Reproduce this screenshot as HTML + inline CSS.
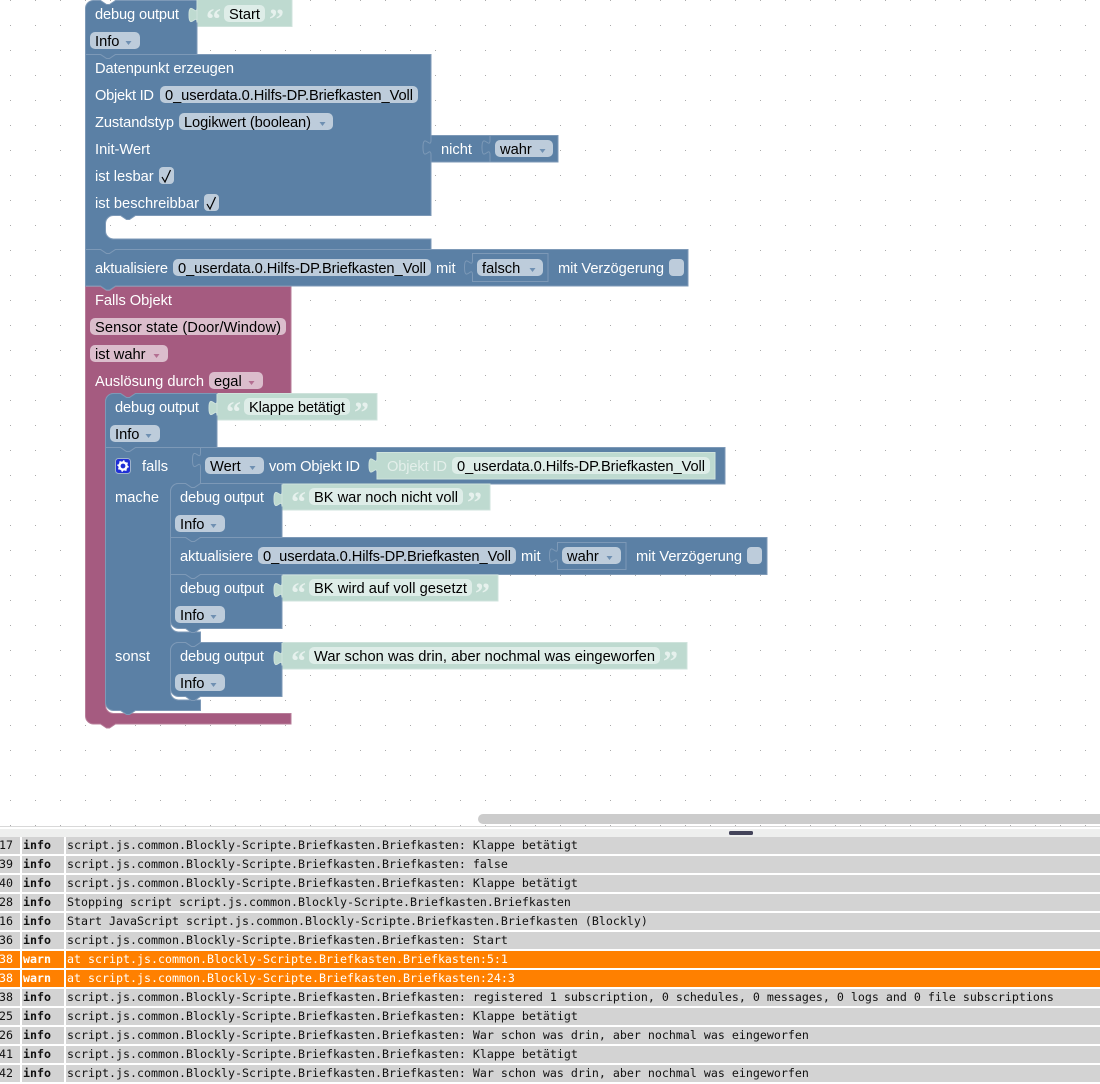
<!DOCTYPE html>
<html><head><meta charset="utf-8"><style>
html,body{margin:0;padding:0;background:#fff;width:1100px;height:1084px;overflow:hidden}
svg{display:block}
text{font-family:"Liberation Sans",sans-serif;font-size:14.67px;white-space:pre}
.b{fill:#5b80a5;stroke:#7d99b7;stroke-width:1}
.p{fill:#a55b80;stroke:#b77d99;stroke-width:1}
.g{fill:#bedad0;stroke:#cfe3dc;stroke-width:1}
.l{fill:#fff}
.t{fill:#000}
.fb{fill:#bdccdb}.fp{fill:#dbbdcc}.fg{fill:#deede8}
.ab{fill:#6f90b2}.ap{fill:#b46f92}
.q{font-family:"Liberation Serif",serif;font-weight:bold;font-size:30px;fill:#e6f1ed}
.m{font-family:"DejaVu Sans Mono",monospace;font-size:11.635px;fill:#111}
.mb{font-family:"DejaVu Sans Mono",monospace;font-size:11.635px;font-weight:bold;fill:#111}
</style></head><body>
<svg width="1100" height="1084" viewBox="0 0 1100 1084" xmlns="http://www.w3.org/2000/svg">
<defs><pattern id="d" x="0" y="0" width="25" height="25" patternUnits="userSpaceOnUse"><rect x="10" y="0" width="1" height="1" fill="#aaa"/></pattern></defs>
<rect x="0" y="0" width="1100" height="827" fill="url(#d)"/>

<!-- pink -->
<path class="p" d="M85.5,286.5 L100.5,286.5 l6,4 3,0 6,-4 L291,286.5 L291,393.5 L135.5,393.5 l-6,4 -3,0 -6,-4 L113.5,393.5 a8,8 0 0 0 -8,8 L105.5,705.5 a8,8 0 0 0 8,8 L291,713.5 L291,724 L115.5,724 l-6,4 -3,0 -6,-4 L93.5,724 a8,8 0 0 1 -8,-8 Z"/>

<!-- debug Start -->
<path class="g" d="M197,-1 L292,-1 L292,26.5 L197,26.5 L197,22.5 c0,-10 -8,8 -8,-7.5 s8,2.5 8,-7.5 Z"/>
<path class="b" d="M85.5,8 A8,8 0 0 1 93.5,0.5 L100.5,0.5 l6,4 3,0 6,-4 L197,0.5 L197,7.5 c0,10 -8,-8 -8,7.5 s8,-2.5 8,7.5 L197,54.5 L115.5,54.5 l-6,4 -3,0 -6,-4 L85.5,54.5 Z"/>
<path class="g" d="M197,0 L197,22.5 c0,-10 -8,8 -8,-7.5 s8,2.5 8,-7.5 Z" stroke="none"/>
<text class="l" x="95" y="19" textLength="84">debug output</text>
<text class="q" x="206" y="29">“</text>
<rect class="fg" x="224" y="5" width="41" height="17" rx="5"/>
<text class="t" x="229" y="19">Start</text>
<text class="q" x="269" y="29">”</text>
<rect class="fb" x="90" y="32" width="50" height="17" rx="5"/>
<text class="t" x="95" y="46">Info</text>
<path class="ab" d="M125.5,41 h6 l-3,4 z"/>

<!-- Datenpunkt -->
<path class="b" d="M85.5,54.5 L100.5,54.5 l6,4 3,0 6,-4 L431,54.5 L431,215.5 L135.5,215.5 l-6,4 -3,0 -6,-4 L113.5,215.5 a8,8 0 0 0 -8,8 L105.5,231 a8,8 0 0 0 8,8 L431,239 L431,249.5 L115.5,249.5 l-6,4 -3,0 -6,-4 L85.5,249.5 Z"/>
<text class="l" x="95" y="73" textLength="139">Datenpunkt erzeugen</text>
<text class="l" x="95" y="100" textLength="59">Objekt ID</text>
<rect class="fb" x="160" y="86" width="258" height="17" rx="5"/>
<text class="t" x="165" y="100" textLength="248">0_userdata.0.Hilfs-DP.Briefkasten_Voll</text>
<text class="l" x="95" y="127" textLength="79">Zustandstyp</text>
<rect class="fb" x="179" y="113" width="154" height="17" rx="5"/>
<text class="t" x="184" y="127" textLength="127">Logikwert (boolean)</text>
<path class="ab" d="M319.5,122 h6 l-3,4 z"/>
<text class="l" x="95" y="154">Init-Wert</text>
<text class="l" x="95" y="181">ist lesbar</text>
<rect class="fb" x="159" y="167" width="15" height="17" rx="4"/>
<path d="M162,177 L165,182 L170.5,170" fill="none" stroke="#000" stroke-width="1.2"/>
<text class="l" x="95" y="208" textLength="104">ist beschreibbar</text>
<rect class="fb" x="204" y="194" width="15" height="17" rx="4"/>
<path d="M207,204 L210,209 L215.5,197" fill="none" stroke="#000" stroke-width="1.2"/>

<!-- nicht wahr -->
<path class="b" d="M431,135.5 L490,135.5 L490,162 L431,162 L431,155 c0,-10 -8,8 -8,-7.5 s8,2.5 8,-7.5 Z"/>
<text class="l" x="441" y="154">nicht</text>
<path class="b" d="M490,135.5 L558,135.5 L558,162 L490,162 L490,155 c0,-10 -8,8 -8,-7.5 s8,2.5 8,-7.5 Z"/>
<rect class="fb" x="495" y="140" width="58" height="17" rx="5"/>
<text class="t" x="500" y="154">wahr</text>
<path class="ab" d="M539.5,149 h6 l-3,4 z"/>

<!-- aktualisiere 1 -->
<path class="b" d="M85.5,249.5 L100.5,249.5 l6,4 3,0 6,-4 L688,249.5 L688,286 L115.5,286 l-6,4 -3,0 -6,-4 L85.5,286 Z"/>
<text class="l" x="95" y="273" textLength="73">aktualisiere</text>
<rect class="fb" x="173" y="259" width="258" height="17" rx="5"/>
<text class="t" x="178" y="273" textLength="248">0_userdata.0.Hilfs-DP.Briefkasten_Voll</text>
<text class="l" x="436" y="273">mit</text>
<path class="b" d="M472.5,253.5 L548,253.5 L548,281.5 L472.5,281.5 L472.5,275 c0,-10 -8,8 -8,-7.5 s8,2.5 8,-7.5 Z"/>
<rect class="fb" x="477" y="259" width="66" height="17" rx="5"/>
<text class="t" x="482" y="273">falsch</text>
<path class="ab" d="M529.5,268 h6 l-3,4 z"/>
<text class="l" x="558" y="273" textLength="106">mit Verzögerung</text>
<rect class="fb" x="669" y="259" width="15" height="17" rx="4"/>

<!-- Falls text -->
<text class="l" x="95" y="305" textLength="77">Falls Objekt</text>
<rect class="fp" x="90" y="318" width="196" height="17" rx="5"/>
<text class="t" x="95" y="332" textLength="186">Sensor state (Door/Window)</text>
<rect class="fp" x="90" y="345" width="78" height="17" rx="5"/>
<text class="t" x="95" y="359">ist wahr</text>
<path class="ap" d="M153.5,354 h6 l-3,4 z"/>
<text class="l" x="95" y="386" textLength="109">Auslösung durch</text>
<rect class="fp" x="209" y="372" width="54" height="17" rx="5"/>
<text class="t" x="214" y="386">egal</text>
<path class="ap" d="M248.5,381 h6 l-3,4 z"/>

<!-- if block -->
<path class="b" d="M105.5,447.5 L120.5,447.5 l6,4 3,0 6,-4 L200.5,447.5 L200.5,483.5 l-6,4 -3,0 -6,-4 L178.5,483.5 a8,8 0 0 0 -8,8 L170.5,624 a8,8 0 0 0 8,8 L200.5,632 L200.5,642.5 l-6,4 -3,0 -6,-4 L178.5,642.5 a8,8 0 0 0 -8,8 L170.5,692 a8,8 0 0 0 8,8 L200.5,700 L200.5,710.5 L135.5,710.5 l-6,4 -3,0 -6,-4 L113.5,710.5 a8,8 0 0 1 -8,-8 Z"/>
<rect x="115.5" y="458.5" width="15" height="15" rx="3" fill="#1f2fd6" stroke="#9fb3cc"/>
<circle cx="123" cy="466" r="3.6" fill="none" stroke="#fff" stroke-width="2.4"/>
<circle cx="123" cy="466" r="5" fill="none" stroke="#fff" stroke-width="1.4" stroke-dasharray="1.6 2.3"/>
<text class="l" x="142" y="471">falls</text>
<text class="l" x="115" y="502">mache</text>
<text class="l" x="115" y="661">sonst</text>

<!-- debug Klappe -->
<path class="g" d="M217,393.5 L377,393.5 L377,420 L217,420 L217,415.5 c0,-10 -8,8 -8,-7.5 s8,2.5 8,-7.5 Z"/>
<path class="b" d="M105.5,401.5 a8,8 0 0 1 8,-8 L120.5,393.5 l6,4 3,0 6,-4 L217,393.5 L217,400.5 c0,10 -8,-8 -8,7.5 s8,-2.5 8,7.5 L217,447.5 L135.5,447.5 l-6,4 -3,0 -6,-4 L105.5,447.5 Z"/>
<path class="g" stroke="none" d="M217,394 L217,415.5 c0,-10 -8,8 -8,-7.5 s8,2.5 8,-7.5 Z"/>
<text class="l" x="115" y="412" textLength="84">debug output</text>
<text class="q" x="226" y="422">“</text>
<rect class="fg" x="244" y="398" width="106" height="17" rx="5"/>
<text class="t" x="249" y="412" textLength="96">Klappe betätigt</text>
<text class="q" x="354" y="422">”</text>
<rect class="fb" x="110" y="425" width="50" height="17" rx="5"/>
<text class="t" x="115" y="439">Info</text>
<path class="ab" d="M145.5,434 h6 l-3,4 z"/>

<!-- Wert -->
<path class="b" d="M200.5,447.5 L725,447.5 L725,484 L200.5,484 L200.5,467.5 c0,-10 -8,8 -8,-7.5 s8,2.5 8,-7.5 Z"/>
<rect class="fb" x="205" y="457" width="59" height="17" rx="5"/>
<text class="t" x="210" y="471">Wert</text>
<path class="ab" d="M249.5,466 h6 l-3,4 z"/>
<text class="l" x="269" y="471" textLength="91">vom Objekt ID</text>
<path class="g" d="M377,452.5 L715,452.5 L715,479 L377,479 L377,473 c0,-10 -8,8 -8,-7.5 s8,2.5 8,-7.5 Z" stroke="none"/>
<text x="387" y="471" fill="#e3efea" textLength="60">Objekt ID</text>
<rect class="fg" x="452" y="457" width="258" height="17" rx="5"/>
<text class="t" x="457" y="471" textLength="248">0_userdata.0.Hilfs-DP.Briefkasten_Voll</text>

<!-- debug BK war -->
<path class="g" d="M282,484 L490,484 L490,510 L282,510 L282,506.5 c0,-10 -8,8 -8,-7.5 s8,2.5 8,-7.5 Z"/>
<path class="b" d="M170.5,491.5 a8,8 0 0 1 8,-8 L185.5,483.5 l6,4 3,0 6,-4 L282,483.5 L282,491.5 c0,10 -8,-8 -8,7.5 s8,-2.5 8,7.5 L282,537.5 L200.5,537.5 l-6,4 -3,0 -6,-4 L170.5,537.5 Z"/>
<path class="g" stroke="none" d="M282,484.5 L282,506.5 c0,-10 -8,8 -8,-7.5 s8,2.5 8,-7.5 Z"/>
<text class="l" x="180" y="502" textLength="84">debug output</text>
<text class="q" x="291" y="512">“</text>
<rect class="fg" x="309" y="488" width="154" height="17" rx="5"/>
<text class="t" x="314" y="502" textLength="144">BK war noch nicht voll</text>
<text class="q" x="467" y="512">”</text>
<rect class="fb" x="175" y="515" width="50" height="17" rx="5"/>
<text class="t" x="180" y="529">Info</text>
<path class="ab" d="M210.5,524 h6 l-3,4 z"/>

<!-- aktualisiere 2 -->
<path class="b" d="M170.5,537.5 L185.5,537.5 l6,4 3,0 6,-4 L767,537.5 L767,574.5 L200.5,574.5 l-6,4 -3,0 -6,-4 L170.5,574.5 Z"/>
<text class="l" x="180" y="561" textLength="73">aktualisiere</text>
<rect class="fb" x="258" y="547" width="258" height="17" rx="5"/>
<text class="t" x="263" y="561" textLength="248">0_userdata.0.Hilfs-DP.Briefkasten_Voll</text>
<text class="l" x="521" y="561">mit</text>
<path class="b" d="M557.5,542.5 L626,542.5 L626,569.5 L557.5,569.5 L557.5,563 c0,-10 -8,8 -8,-7.5 s8,2.5 8,-7.5 Z"/>
<rect class="fb" x="562" y="547" width="59" height="17" rx="5"/>
<text class="t" x="567" y="561">wahr</text>
<path class="ab" d="M606.5,556 h6 l-3,4 z"/>
<text class="l" x="636" y="561" textLength="106">mit Verzögerung</text>
<rect class="fb" x="747" y="547" width="15" height="17" rx="4"/>

<!-- debug BK wird -->
<path class="g" d="M282,575 L498,575 L498,601 L282,601 L282,597.5 c0,-10 -8,8 -8,-7.5 s8,2.5 8,-7.5 Z"/>
<path class="b" d="M170.5,574.5 L185.5,574.5 l6,4 3,0 6,-4 L282,574.5 L282,582.5 c0,10 -8,-8 -8,7.5 s8,-2.5 8,7.5 L282,628.5 L200.5,628.5 l-6,4 -3,0 -6,-4 L178.5,628.5 a8,8 0 0 1 -8,-8 Z"/>
<path class="g" stroke="none" d="M282,575.5 L282,597.5 c0,-10 -8,8 -8,-7.5 s8,2.5 8,-7.5 Z"/>
<text class="l" x="180" y="593" textLength="84">debug output</text>
<text class="q" x="291" y="603">“</text>
<rect class="fg" x="309" y="579" width="163" height="17" rx="5"/>
<text class="t" x="314" y="593" textLength="153">BK wird auf voll gesetzt</text>
<text class="q" x="475" y="603">”</text>
<rect class="fb" x="175" y="606" width="50" height="17" rx="5"/>
<text class="t" x="180" y="620">Info</text>
<path class="ab" d="M210.5,615 h6 l-3,4 z"/>

<!-- debug War schon -->
<path class="g" d="M282,642.5 L687,642.5 L687,669 L282,669 L282,665.5 c0,-10 -8,8 -8,-7.5 s8,2.5 8,-7.5 Z"/>
<path class="b" d="M170.5,650.5 a8,8 0 0 1 8,-8 L185.5,642.5 l6,4 3,0 6,-4 L282,642.5 L282,650.5 c0,10 -8,-8 -8,7.5 s8,-2.5 8,7.5 L282,696.5 L200.5,696.5 l-6,4 -3,0 -6,-4 L178.5,696.5 a8,8 0 0 1 -8,-8 Z"/>
<path class="g" stroke="none" d="M282,643 L282,665.5 c0,-10 -8,8 -8,-7.5 s8,2.5 8,-7.5 Z"/>
<text class="l" x="180" y="661" textLength="84">debug output</text>
<text class="q" x="291" y="671">“</text>
<rect class="fg" x="309" y="647" width="351" height="17" rx="5"/>
<text class="t" x="314" y="661" textLength="341">War schon was drin, aber nochmal was eingeworfen</text>
<text class="q" x="663" y="671">”</text>
<rect class="fb" x="175" y="674" width="50" height="17" rx="5"/>
<text class="t" x="180" y="688">Info</text>
<path class="ab" d="M210.5,683 h6 l-3,4 z"/>

<!-- scrollbar & splitter -->
<rect x="478" y="814" width="640" height="10" rx="5" fill="#ccc"/>
<rect x="0" y="826" width="1100" height="1" fill="#d8d8d8"/>
<rect x="0" y="829" width="1100" height="8" fill="#eeefee"/>
<rect x="729" y="831" width="24" height="4" rx="1.5" fill="#44445a"/>

<!-- log -->
<g fill="#d3d3d3">
<rect x="0" y="837" width="20" height="17"/><rect x="22" y="837" width="42" height="17"/><rect x="66" y="837" width="1034" height="17"/>
<rect x="0" y="856" width="20" height="17"/><rect x="22" y="856" width="42" height="17"/><rect x="66" y="856" width="1034" height="17"/>
<rect x="0" y="875" width="20" height="17"/><rect x="22" y="875" width="42" height="17"/><rect x="66" y="875" width="1034" height="17"/>
<rect x="0" y="894" width="20" height="17"/><rect x="22" y="894" width="42" height="17"/><rect x="66" y="894" width="1034" height="17"/>
<rect x="0" y="913" width="20" height="17"/><rect x="22" y="913" width="42" height="17"/><rect x="66" y="913" width="1034" height="17"/>
<rect x="0" y="932" width="20" height="17"/><rect x="22" y="932" width="42" height="17"/><rect x="66" y="932" width="1034" height="17"/>
<rect x="0" y="989" width="20" height="17"/><rect x="22" y="989" width="42" height="17"/><rect x="66" y="989" width="1034" height="17"/>
<rect x="0" y="1008" width="20" height="17"/><rect x="22" y="1008" width="42" height="17"/><rect x="66" y="1008" width="1034" height="17"/>
<rect x="0" y="1027" width="20" height="17"/><rect x="22" y="1027" width="42" height="17"/><rect x="66" y="1027" width="1034" height="17"/>
<rect x="0" y="1046" width="20" height="17"/><rect x="22" y="1046" width="42" height="17"/><rect x="66" y="1046" width="1034" height="17"/>
<rect x="0" y="1065" width="20" height="17"/><rect x="22" y="1065" width="42" height="17"/><rect x="66" y="1065" width="1034" height="17"/>
</g>
<g fill="#ff8000">
<rect x="0" y="951" width="20" height="17"/><rect x="22" y="951" width="42" height="17"/><rect x="66" y="951" width="1034" height="17"/>
<rect x="0" y="970" width="20" height="17"/><rect x="22" y="970" width="42" height="17"/><rect x="66" y="970" width="1034" height="17"/>
</g>
<text class="m" x="-1" y="849">17</text>
<text class="m" x="-1" y="868">39</text>
<text class="m" x="-1" y="887">40</text>
<text class="m" x="-1" y="906">28</text>
<text class="m" x="-1" y="925">16</text>
<text class="m" x="-1" y="944">36</text>
<text class="m" x="-1" y="963" style="fill:#fff">38</text>
<text class="m" x="-1" y="982" style="fill:#fff">38</text>
<text class="m" x="-1" y="1001">38</text>
<text class="m" x="-1" y="1020">25</text>
<text class="m" x="-1" y="1039">26</text>
<text class="m" x="-1" y="1058">41</text>
<text class="m" x="-1" y="1077">42</text>
<text class="mb" x="23" y="849">info</text><text class="m" x="67" y="849">script.js.common.Blockly-Scripte.Briefkasten.Briefkasten: Klappe betätigt</text>
<text class="mb" x="23" y="868">info</text><text class="m" x="67" y="868">script.js.common.Blockly-Scripte.Briefkasten.Briefkasten: false</text>
<text class="mb" x="23" y="887">info</text><text class="m" x="67" y="887">script.js.common.Blockly-Scripte.Briefkasten.Briefkasten: Klappe betätigt</text>
<text class="mb" x="23" y="906">info</text><text class="m" x="67" y="906">Stopping script script.js.common.Blockly-Scripte.Briefkasten.Briefkasten</text>
<text class="mb" x="23" y="925">info</text><text class="m" x="67" y="925">Start JavaScript script.js.common.Blockly-Scripte.Briefkasten.Briefkasten (Blockly)</text>
<text class="mb" x="23" y="944">info</text><text class="m" x="67" y="944">script.js.common.Blockly-Scripte.Briefkasten.Briefkasten: Start</text>
<text class="mb" x="23" y="963" style="fill:#fff">warn</text><text class="m" x="67" y="963" style="fill:#fff">at script.js.common.Blockly-Scripte.Briefkasten.Briefkasten:5:1</text>
<text class="mb" x="23" y="982" style="fill:#fff">warn</text><text class="m" x="67" y="982" style="fill:#fff">at script.js.common.Blockly-Scripte.Briefkasten.Briefkasten:24:3</text>
<text class="mb" x="23" y="1001">info</text><text class="m" x="67" y="1001">script.js.common.Blockly-Scripte.Briefkasten.Briefkasten: registered 1 subscription, 0 schedules, 0 messages, 0 logs and 0 file subscriptions</text>
<text class="mb" x="23" y="1020">info</text><text class="m" x="67" y="1020">script.js.common.Blockly-Scripte.Briefkasten.Briefkasten: Klappe betätigt</text>
<text class="mb" x="23" y="1039">info</text><text class="m" x="67" y="1039">script.js.common.Blockly-Scripte.Briefkasten.Briefkasten: War schon was drin, aber nochmal was eingeworfen</text>
<text class="mb" x="23" y="1058">info</text><text class="m" x="67" y="1058">script.js.common.Blockly-Scripte.Briefkasten.Briefkasten: Klappe betätigt</text>
<text class="mb" x="23" y="1077">info</text><text class="m" x="67" y="1077">script.js.common.Blockly-Scripte.Briefkasten.Briefkasten: War schon was drin, aber nochmal was eingeworfen</text>
</svg>
</body></html>
